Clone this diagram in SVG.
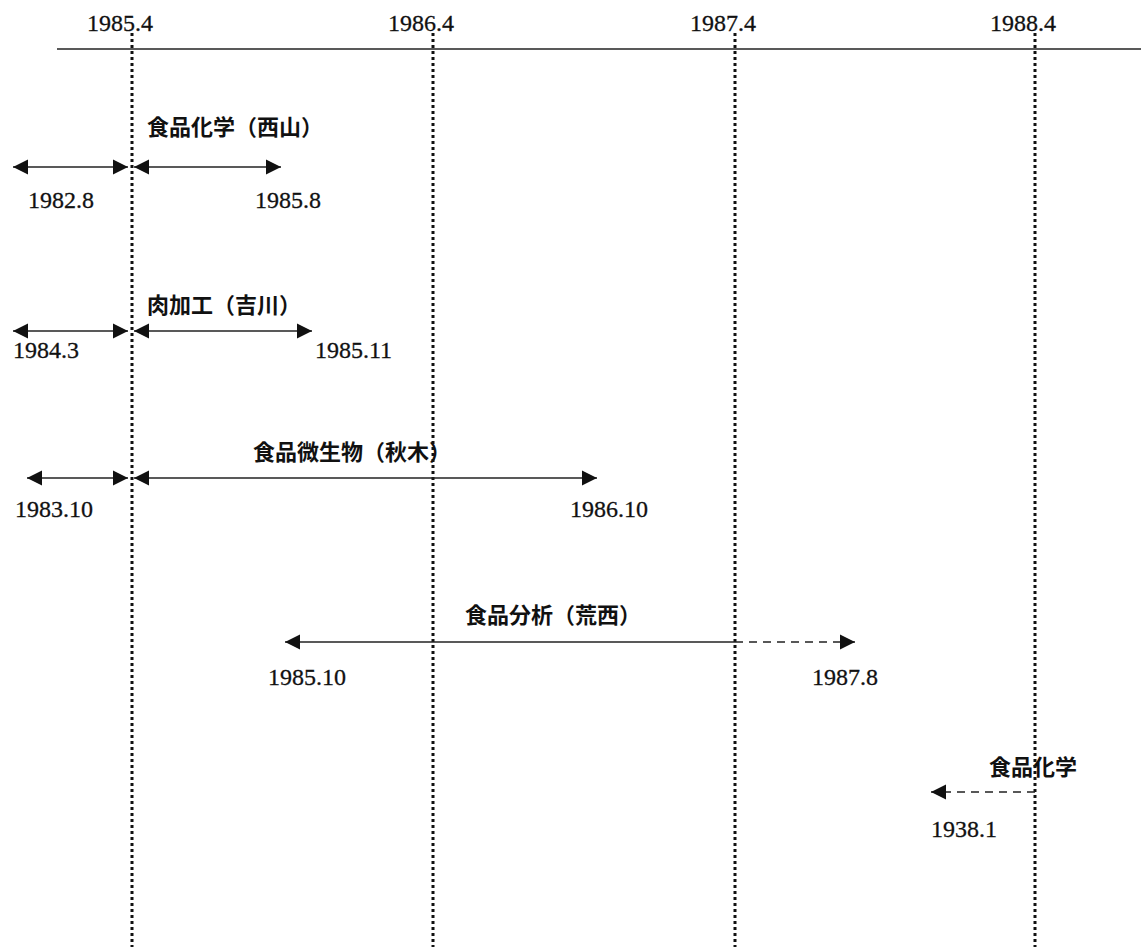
<svg xmlns="http://www.w3.org/2000/svg" width="1141" height="947" viewBox="0 0 1141 947">
  <style>
    .num { font-family: "Liberation Serif", "Times New Roman", serif; font-size: 24px; fill: #111; stroke: #111; stroke-width: 0.3; }
    .ttl { font-family: "Noto Sans CJK JP", "Noto Sans CJK SC", sans-serif; font-size: 22px; font-weight: bold; fill: #111; }
    .grid { stroke: #111; stroke-width: 3; stroke-dasharray: 3 3; fill: none; }
    .axis { stroke: #222; stroke-width: 1.6; fill: none; }
    .arr { stroke: #222; stroke-width: 1.6; fill: none; }
    .dash { stroke-dasharray: 8 6; }
  </style>
  <defs>
    <marker id="ah" markerUnits="userSpaceOnUse" markerWidth="16" markerHeight="16" refX="15" refY="8" orient="auto-start-reverse">
      <path d="M0,0.5 L15,8 L0,15.5 z" fill="#111"/>
    </marker>
  </defs>
  <rect width="1141" height="947" fill="#fff"/>

  <g id="timeline">
    <line class="axis" x1="57" y1="49" x2="1141" y2="49"/>
    <line class="grid" x1="132" y1="33" x2="132" y2="947"/>
    <line class="grid" x1="433" y1="33" x2="433" y2="947"/>
    <line class="grid" x1="735" y1="33" x2="735" y2="947"/>
    <line class="grid" x1="1035" y1="33" x2="1035" y2="947"/>
    <text class="num" x="87" y="31">1985.4</text>
    <text class="num" x="388" y="31">1986.4</text>
    <text class="num" x="690" y="31">1987.4</text>
    <text class="num" x="990" y="31">1988.4</text>
  </g>

  <g id="connectors">
    <line class="arr" x1="13" y1="167" x2="128" y2="167" marker-start="url(#ah)" marker-end="url(#ah)"/>
    <line class="arr" x1="134" y1="167" x2="281" y2="167" marker-start="url(#ah)" marker-end="url(#ah)"/>
    <line class="arr" x1="13" y1="331" x2="128" y2="331" marker-start="url(#ah)" marker-end="url(#ah)"/>
    <line class="arr" x1="134" y1="331" x2="312" y2="331" marker-start="url(#ah)" marker-end="url(#ah)"/>
    <line class="arr" x1="27" y1="478" x2="128" y2="478" marker-start="url(#ah)" marker-end="url(#ah)"/>
    <line class="arr" x1="134" y1="478" x2="597" y2="478" marker-start="url(#ah)" marker-end="url(#ah)"/>
    <line class="arr" x1="285" y1="642" x2="735" y2="642" marker-start="url(#ah)"/>
    <line class="arr dash" x1="735" y1="642" x2="855" y2="642" marker-end="url(#ah)"/>
    <line class="arr dash" x1="1035" y1="792" x2="931" y2="792" marker-end="url(#ah)"/>
  </g>

  <g id="node-shokuhin-kagaku-nishiyama">
    <text class="ttl" x="147" y="135">食品化学（西山）</text>
    <text class="num" x="28" y="208">1982.8</text>
    <text class="num" x="255" y="208">1985.8</text>
  </g>
  <g id="node-nikukakou-yoshikawa">
    <text class="ttl" x="147" y="313">肉加工（吉川）</text>
    <text class="num" x="13" y="358">1984.3</text>
    <text class="num" x="315" y="358">1985.11</text>
  </g>
  <g id="node-shokuhin-biseibutsu-akiki">
    <text class="ttl" x="253" y="460">食品微生物（秋木）</text>
    <text class="num" x="15" y="517">1983.10</text>
    <text class="num" x="570" y="517">1986.10</text>
  </g>
  <g id="node-shokuhin-bunseki-aranishi">
    <text class="ttl" x="465" y="623">食品分析（荒西）</text>
    <text class="num" x="268" y="685">1985.10</text>
    <text class="num" x="812" y="685">1987.8</text>
  </g>
  <g id="node-shokuhin-kagaku">
    <text class="ttl" x="989" y="775">食品化学</text>
    <text class="num" x="931" y="837">1938.1</text>
  </g>
</svg>
